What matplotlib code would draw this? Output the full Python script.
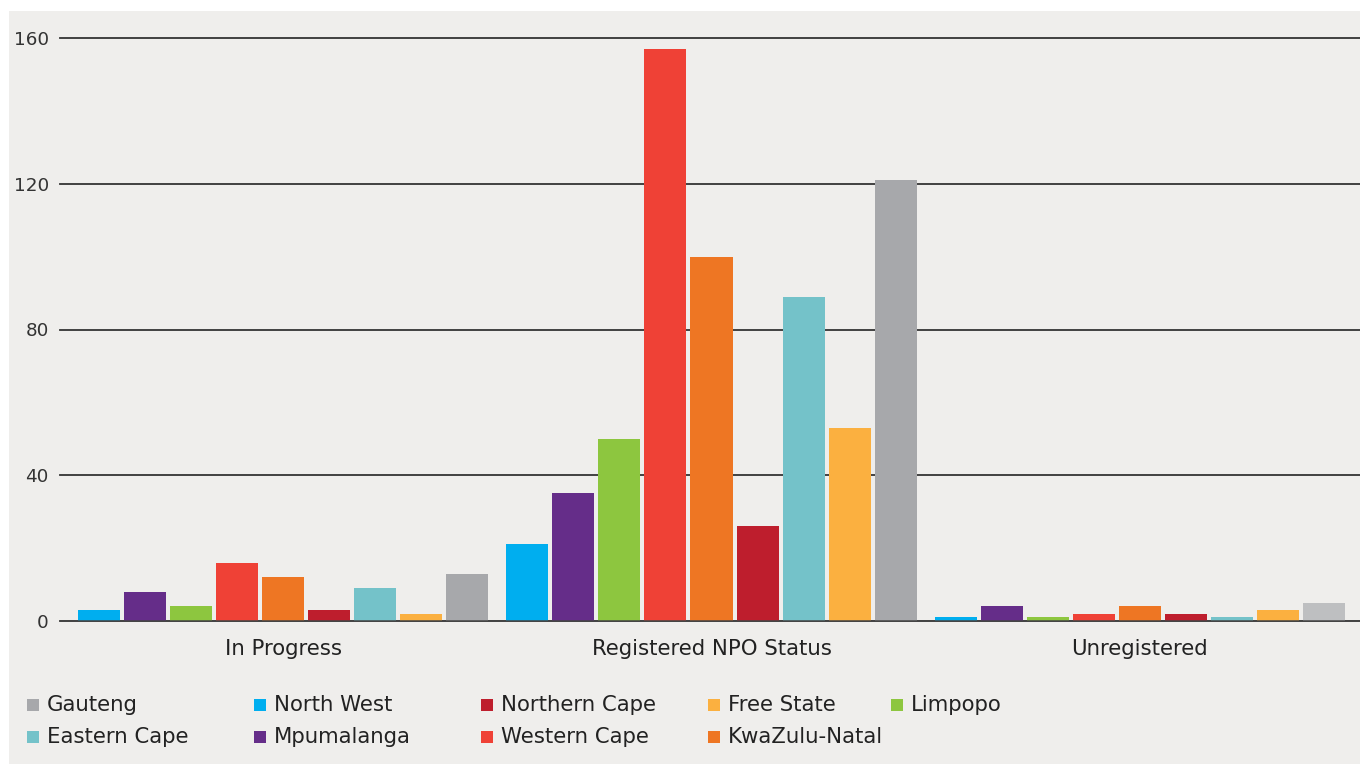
import numpy as np
import matplotlib.pyplot as plt
from matplotlib.patches import Rectangle

categories = ['In Progress', 'Registered NPO Status', 'Unregistered']
provinces = ['North West', 'Mpumalanga', 'Limpopo', 'Western Cape', 'KwaZulu-Natal',
             'Northern Cape', 'Eastern Cape', 'Free State', 'Gauteng']
values = {
    'North West':    [3, 21, 1],
    'Mpumalanga':    [8, 35, 4],
    'Limpopo':       [4, 50, 1],
    'Western Cape':  [16, 157, 2],
    'KwaZulu-Natal': [12, 100, 4],
    'Northern Cape': [3, 26, 2],
    'Eastern Cape':  [9, 89, 1],
    'Free State':    [2, 53, 3],
    'Gauteng':       [13, 121, 5],
}
colors = {
    'North West': '#00aeef', 'Mpumalanga': '#652d89', 'Limpopo': '#8dc63f',
    'Western Cape': '#ef4136', 'KwaZulu-Natal': '#ee7623', 'Northern Cape': '#be1e2d',
    'Eastern Cape': '#74c2c9', 'Free State': '#fbb040', 'Gauteng': '#a7a8ab',
}
# legend order as shown (row by row)
legend_rows = [['Gauteng', 'North West', 'Northern Cape', 'Free State', 'Limpopo'],
               ['Eastern Cape', 'Mpumalanga', 'Western Cape', 'KwaZulu-Natal']]
yticks = [0, 40, 80, 120, 160]

W, H = 1360, 764
fig = plt.figure(figsize=(13.6, 7.64), dpi=100, facecolor='white')
fig.patches.append(Rectangle((9 / W, 0), 1, 1 - 11 / H, transform=fig.transFigure,
                             facecolor='#efeeec', edgecolor='none', zorder=-10))

ax = fig.add_axes([60 / W, 1 - 621 / H, 1 - 60 / W, (621 - 38) / H])
ax.set_facecolor('none')

x = np.arange(len(categories))
slot = 46 / 428
bw = 42 / 428
for i, p in enumerate(provinces):
    offs = (i - (len(provinces) - 1) / 2) * slot
    cols = [colors[p]] * len(categories)
    if p == 'Gauteng':
        cols[2] = '#bebfc1'
    ax.bar(x + offs, values[p], width=bw, color=cols, zorder=3)

ax.set_xlim(-0.522, 2.515)
ax.set_ylim(0, 160)
ax.set_yticks(yticks)
ax.set_xticks(x)
ax.set_xticklabels(categories, fontsize=15.3, color='#222222')
ax.tick_params(axis='x', length=0, pad=13)
ax.tick_params(axis='y', length=0, pad=8, labelsize=13.2, labelcolor='#333333')
for s in ax.spines.values():
    s.set_visible(False)
for v in yticks:
    ax.axhline(v, color='#333333', linewidth=1.3, zorder=1, clip_on=False)
ax.axhline(0, color='#444444', linewidth=1.8, zorder=4)

# manual legend
col_x = [27, 254, 481, 708, 891]
row_y = [705, 737]
for r, row in enumerate(legend_rows):
    for c, name in enumerate(row):
        x0, y0 = col_x[c], row_y[r]
        fig.patches.append(Rectangle((x0 / W, (H - y0 - 6) / H), 12 / W, 12 / H,
                                     transform=fig.transFigure,
                                     facecolor=colors[name], edgecolor='none'))
        fig.text((x0 + 20) / W, 1 - y0 / H, name, fontsize=15.3, color='#222222',
                 va='center', ha='left')

fig.savefig('out.png', dpi=100, facecolor='white')
